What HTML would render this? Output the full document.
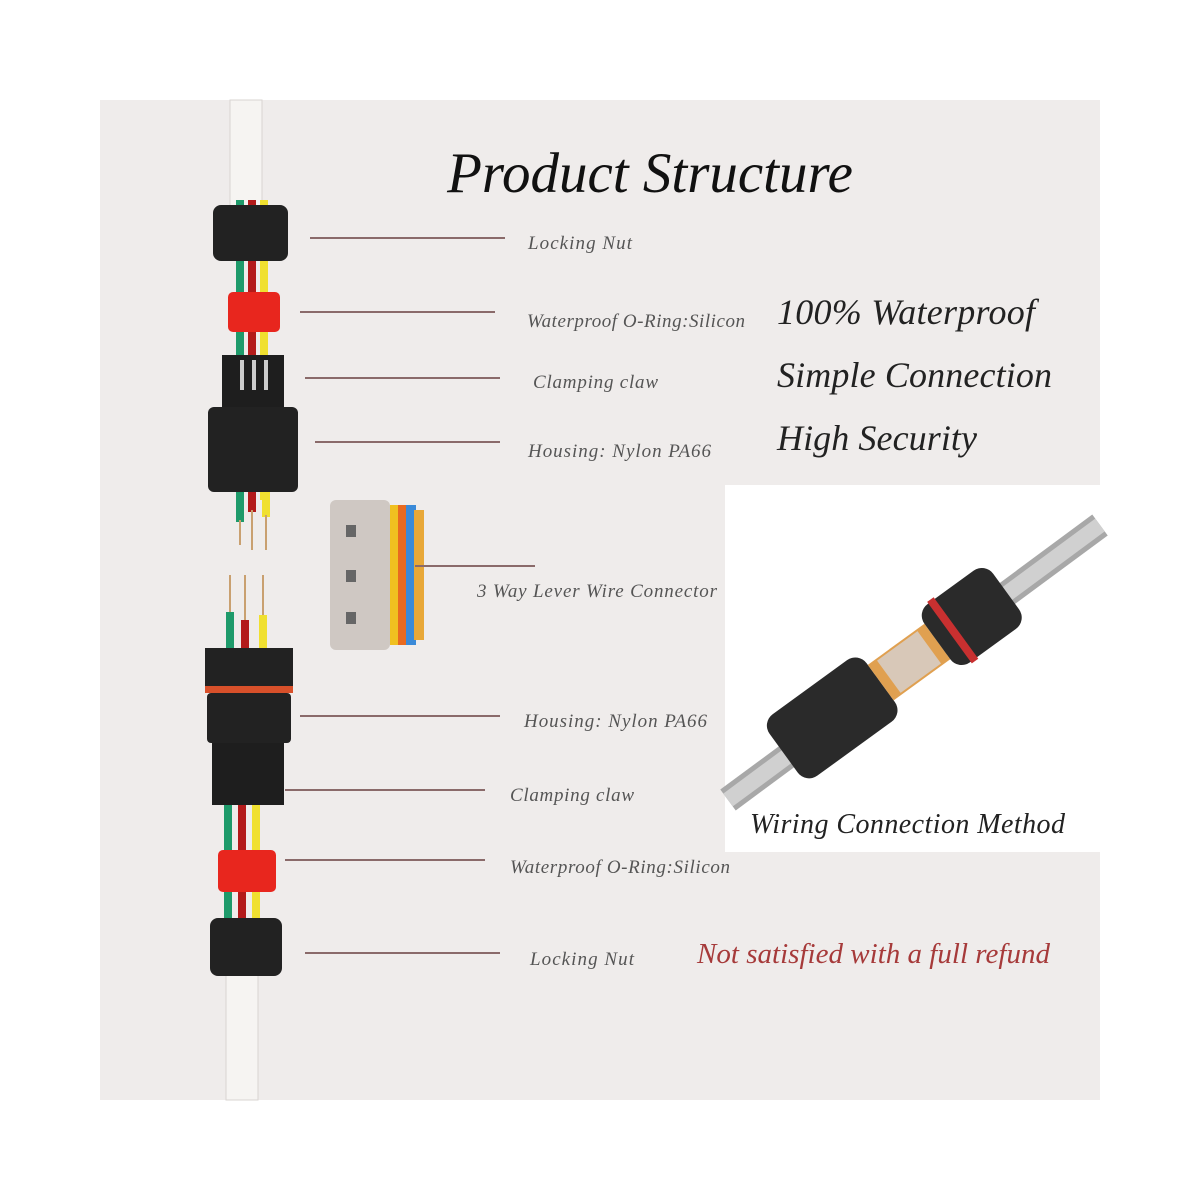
<!DOCTYPE html>
<html><head><meta charset="utf-8"><style>
html,body{margin:0;padding:0;background:#fff;}
svg{display:block;}
text{font-family:"Liberation Serif",serif;font-style:italic;}
</style></head><body>
<svg width="1200" height="1200" viewBox="0 0 1200 1200" xmlns="http://www.w3.org/2000/svg">
<rect width="1200" height="1200" fill="#fff"/>
<rect x="100" y="100" width="1000" height="1000" fill="#efeceb"/>
<rect x="230" y="100" width="32" height="115" fill="#f6f4f2" stroke="#d8d4d2"/>
<rect x="226" y="975" width="32" height="125" fill="#f6f4f2" stroke="#d8d4d2"/>
<rect x="236" y="200" width="8" height="300" fill="#1e9a6a"/>
<rect x="248" y="200" width="8" height="300" fill="#b31a1a"/>
<rect x="260" y="200" width="8" height="300" fill="#f0e030"/>
<rect x="213" y="205" width="75" height="56" rx="8" fill="#222"/>
<rect x="228" y="292" width="52" height="40" rx="5" fill="#e8261e"/>
<rect x="222" y="355" width="62" height="52" fill="#1e1e1e"/>
<rect x="240" y="360" width="4" height="30" fill="#ccc"/><rect x="252" y="360" width="4" height="30" fill="#ccc"/><rect x="264" y="360" width="4" height="30" fill="#ccc"/>
<rect x="208" y="407" width="90" height="85" rx="6" fill="#222"/>
<rect x="236" y="492" width="8" height="30" fill="#1e9a6a"/><rect x="248" y="492" width="8" height="20" fill="#b31a1a"/><rect x="262" y="492" width="8" height="25" fill="#f0e030"/>
<rect x="239" y="520" width="2" height="25" fill="#c9a070"/><rect x="251" y="510" width="2" height="40" fill="#c9a070"/><rect x="265" y="515" width="2" height="35" fill="#c9a070"/>
<rect x="229" y="575" width="2" height="40" fill="#c9a070"/><rect x="244" y="575" width="2" height="45" fill="#c9a070"/><rect x="262" y="575" width="2" height="45" fill="#c9a070"/>
<rect x="226" y="612" width="8" height="38" fill="#1e9a6a"/><rect x="241" y="620" width="8" height="30" fill="#b31a1a"/><rect x="259" y="615" width="8" height="35" fill="#f0e030"/>
<rect x="205" y="648" width="88" height="40" fill="#222"/>
<rect x="205" y="686" width="88" height="7" fill="#d8502a"/>
<rect x="207" y="693" width="84" height="50" rx="4" fill="#222"/>
<rect x="212" y="743" width="72" height="62" fill="#1e1e1e"/>
<rect x="224" y="805" width="8" height="150" fill="#1e9a6a"/><rect x="238" y="805" width="8" height="150" fill="#b31a1a"/><rect x="252" y="805" width="8" height="150" fill="#f0e030"/>
<rect x="218" y="850" width="58" height="42" rx="5" fill="#e8261e"/>
<rect x="210" y="918" width="72" height="58" rx="8" fill="#222"/>
<rect x="330" y="500" width="60" height="150" rx="6" fill="#cfc8c3"/>
<rect x="390" y="505" width="10" height="140" fill="#f0c020"/>
<rect x="398" y="505" width="10" height="140" fill="#e86a20"/>
<rect x="406" y="505" width="10" height="140" fill="#3a8ad8"/>
<rect x="414" y="510" width="10" height="130" fill="#e8a838"/>
<rect x="346" y="525" width="10" height="12" fill="#666"/><rect x="346" y="570" width="10" height="12" fill="#666"/><rect x="346" y="612" width="10" height="12" fill="#666"/>
<g stroke="#8a6a6a" stroke-width="2">
<line x1="310" y1="238" x2="505" y2="238"/>
<line x1="300" y1="312" x2="495" y2="312"/>
<line x1="305" y1="378" x2="500" y2="378"/>
<line x1="315" y1="442" x2="500" y2="442"/>
<line x1="415" y1="566" x2="535" y2="566"/>
<line x1="300" y1="716" x2="500" y2="716"/>
<line x1="285" y1="790" x2="485" y2="790"/>
<line x1="285" y1="860" x2="485" y2="860"/>
<line x1="305" y1="953" x2="500" y2="953"/>
</g>
<text x="650" y="192" font-size="57" text-anchor="middle" fill="#111">Product Structure</text>
<g font-size="19" fill="#555">
<text x="528" y="249" textLength="104">Locking Nut</text>
<text x="527" y="327" textLength="218">Waterproof O-Ring:Silicon</text>
<text x="533" y="388" textLength="125">Clamping claw</text>
<text x="528" y="457" textLength="183">Housing: Nylon PA66</text>
<text x="477" y="597" textLength="240">3 Way Lever Wire Connector</text>
<text x="524" y="727" textLength="183">Housing: Nylon PA66</text>
<text x="510" y="801" textLength="124">Clamping claw</text>
<text x="510" y="873" textLength="220">Waterproof O-Ring:Silicon</text>
<text x="530" y="965" textLength="104">Locking Nut</text>
</g>
<g font-size="36" fill="#222">
<text x="777" y="324" textLength="258">100% Waterproof</text>
<text x="777" y="387" textLength="275">Simple Connection</text>
<text x="777" y="450" textLength="200">High Security</text>
</g>
<text x="697" y="963" font-size="29" fill="#a63a3a" textLength="353">Not satisfied with a full refund</text>
<rect x="725" y="485" width="375" height="367" fill="#fff"/>
<line x1="728" y1="800" x2="1100" y2="525" stroke="#a8a8a8" stroke-width="26"/>
<line x1="728" y1="800" x2="1100" y2="525" stroke="#d0d0d0" stroke-width="16"/>
<g transform="translate(905,665) rotate(-36)">
<rect x="-150" y="-38" width="120" height="76" rx="14" fill="#2a2a2a"/>
<rect x="-30" y="-22" width="70" height="44" fill="#e0a050"/>
<rect x="-20" y="-20" width="50" height="40" fill="#d8c8b8"/>
<rect x="40" y="-36" width="85" height="72" rx="14" fill="#2a2a2a"/>
<rect x="55" y="-38" width="8" height="76" fill="#c83030"/>
</g>
<text x="750" y="833" font-size="28" fill="#222" textLength="315">Wiring Connection Method</text>
</svg>
</body></html>
